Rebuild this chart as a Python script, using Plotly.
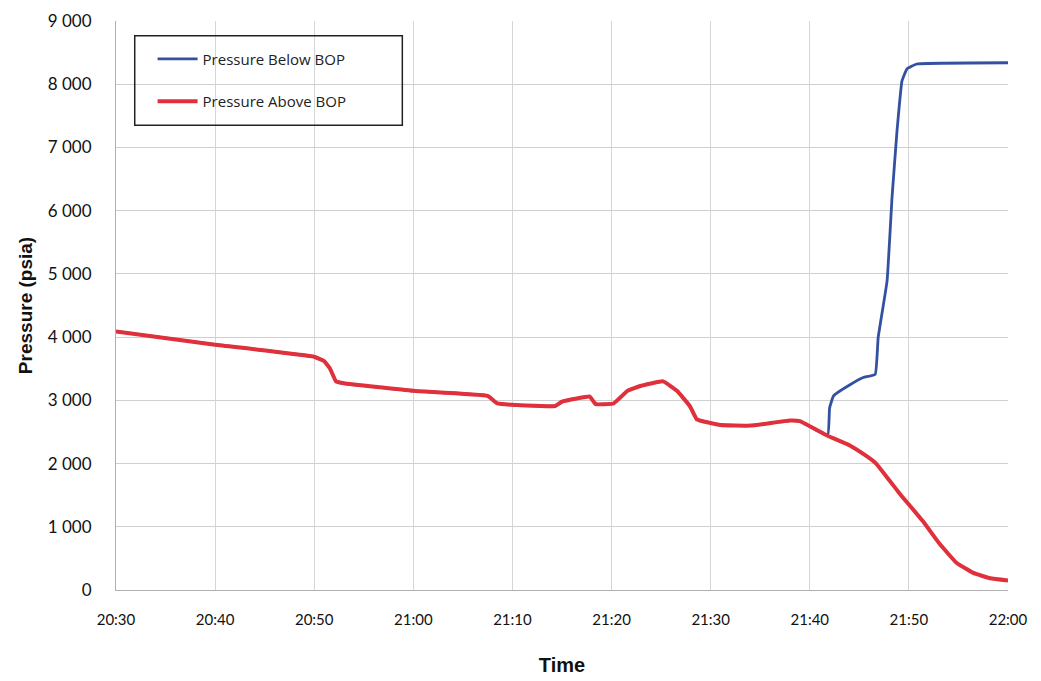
import plotly.graph_objs as go

# pressure readings, times on the day of the event
base_date = "2010-04-20 "

red_times = ["20:30", "20:40", "20:50", "20:51", "20:51:36", "20:52:12", "20:53",
             "21:00", "21:07:30", "21:08:30", "21:14:18", "21:15", "21:16:30",
             "21:17:48", "21:18:24", "21:20:12", "21:21:36", "21:23", "21:25:12",
             "21:26:36", "21:27:54", "21:28:36", "21:31", "21:34", "21:38", "21:39",
             "21:41:48", "21:44", "21:45:42", "21:46:42", "21:48:06", "21:49:06",
             "21:51:24", "21:53:06", "21:54:48", "21:56:30", "21:58:12", "22:00"]
red_pressure = [4090, 3880, 3690, 3620, 3500, 3300, 3270,
                3150, 3070, 2950, 2910, 2980, 3030,
                3060, 2940, 2950, 3150, 3230, 3300,
                3150, 2910, 2700, 2610, 2600, 2680, 2670,
                2440, 2290, 2120, 2000, 1720, 1520,
                1090, 730, 430, 270, 185, 150]

# below BOP follows the same gauge until the split at 21:41:48
split_index = red_times.index("21:41:48") + 1
blue_times_after = ["21:42", "21:42:24", "21:44:06", "21:45:24", "21:46:36", "21:46:54",
                    "21:47:48", "21:48:18", "21:48:48", "21:49:18", "21:49:48",
                    "21:50:48", "22:00"]
blue_pressure_after = [2880, 3070, 3250, 3360, 3410, 3990,
                       4890, 6210, 7260, 8050, 8240,
                       8320, 8340]

blue_times = red_times[:split_index] + blue_times_after
blue_pressure = red_pressure[:split_index] + blue_pressure_after

x_ticks = ["20:30", "20:40", "20:50", "21:00", "21:10", "21:20", "21:30", "21:40", "21:50", "22:00"]


def main():
    trace_below = go.Scatter(x=[base_date + t for t in blue_times], y=blue_pressure,
                             mode='lines', name='Pressure Below BOP', legendgroup='below',
                             line=dict(color='#3450a0', width=2.8, shape='spline', smoothing=0.3))
    trace_above = go.Scatter(x=[base_date + t for t in red_times], y=red_pressure,
                             mode='lines', name='Pressure Above BOP', legendgroup='above',
                             line=dict(color='#e0303c', width=4, shape='spline', smoothing=0.3))

    # the page body adds a small offset, margins below are chosen to land the plot box
    layout = go.Layout(
        width=1041, height=681,
        margin=dict(l=108, r=41, t=13, b=99),
        plot_bgcolor='white', paper_bgcolor='white',
        separators='. ',
        font=dict(family='Lato, Arial', color='#111111'),
        xaxis=dict(
            range=[base_date + "20:30", base_date + "22:00"],
            tickvals=[base_date + t for t in x_ticks], ticktext=x_ticks,
            tickfont=dict(size=15, family='Lato'),
            showgrid=True, gridcolor='#d6d6d6', gridwidth=1,
            showline=True, linecolor='#b0b0b0', linewidth=1,
            ticks='', ticklabelstandoff=16, ticklabeloverflow='allow', automargin=False,
            title=dict(text='<b>Time</b>', font=dict(size=20, family='Arial'), standoff=30),
        ),
        yaxis=dict(
            range=[0, 9000], dtick=1000, tickformat=',d',
            tickfont=dict(size=17, family='Lato'),
            showgrid=True, gridcolor='#cfcfcf', gridwidth=1,
            showline=True, linecolor='#b0b0b0', linewidth=1,
            ticks='', ticklabelstandoff=20, ticklabeloverflow='allow', zeroline=False,
            automargin=False,
            title=dict(text='<b>Pressure (psia)</b>', font=dict(size=19, family='Arial'), standoff=10),
        ),
        showlegend=True,
        legend=dict(x=0.041, y=0.962, xanchor='left', yanchor='top',
                    bgcolor='rgba(0,0,0,0)', borderwidth=0,
                    traceorder='grouped', tracegroupgap=20,
                    font=dict(size=15, family='Open Sans', color='#222222'),
                    itemwidth=40),
        shapes=[dict(type='rect', xref='paper', yref='paper',
                     x0=0.021, x1=0.321, y0=0.817, y1=0.974,
                     line=dict(color='#222222', width=1.5), fillcolor='rgba(0,0,0,0)')],
    )

    fig = go.Figure([trace_below, trace_above], layout=layout)
    fig.write_html('out.html')


if __name__ == "__main__":
    main()
